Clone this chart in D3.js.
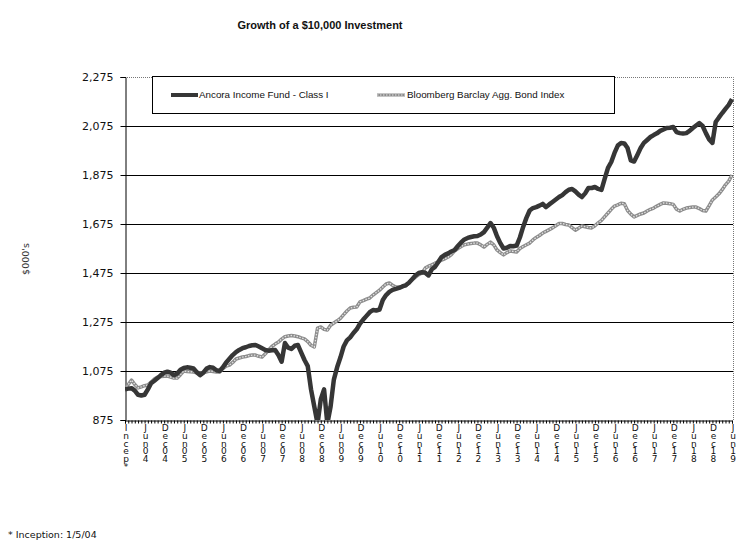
<!DOCTYPE html>
<html>
<head>
<meta charset="utf-8">
<script src="https://cdn.jsdelivr.net/npm/d3@7"></script>
<style>
  body { margin: 0; background: #fff; }
  svg { display: block; }
  .xlabel { writing-mode: vertical-rl; text-orientation: upright; }
</style>
</head>
<body>
<svg id="chart" width="755" height="554"></svg>
<script>
// month index 0 = inception (1/5/04), 1 = Jan04 ... 186 = Jun19
const fundValues = [
  1000,
  1003, 1005, 995, 978, 975, 978, 1000, 1025, 1035, 1046, 1058, 1068,
  1072, 1068, 1058, 1065, 1080, 1087, 1090, 1088, 1085, 1070, 1058, 1068,
  1085, 1091, 1088, 1078, 1075, 1090, 1110, 1125, 1140, 1152, 1161, 1168,
  1172, 1177, 1180, 1181, 1175, 1168, 1161, 1158, 1160, 1161, 1140, 1113,
  1189, 1170, 1165, 1178, 1181, 1150, 1120, 1095, 1000, 930, 860, 960,
  1000, 860, 930, 1040, 1090, 1130, 1175, 1200, 1212, 1230, 1245, 1268,
  1285, 1300, 1315, 1324, 1322, 1326, 1365, 1385, 1398, 1406, 1410, 1414,
  1420, 1425, 1435, 1450, 1465, 1475, 1478, 1476, 1465, 1490, 1500, 1520,
  1540, 1549, 1555, 1563, 1569, 1585, 1600, 1612, 1618, 1622, 1625, 1626,
  1632, 1642, 1660, 1679, 1660, 1625, 1597, 1575, 1578, 1585, 1584, 1587,
  1620, 1663, 1700, 1730, 1740, 1744, 1750, 1757, 1744, 1755, 1765, 1775,
  1785, 1793, 1805, 1815, 1818, 1808, 1795, 1785, 1800, 1822, 1822, 1826,
  1818, 1814, 1860, 1904, 1928, 1965, 1995, 2006, 2004, 1985, 1935, 1930,
  1957, 1985, 2006, 2018, 2030, 2038, 2045, 2055, 2061, 2067, 2068, 2071,
  2050, 2046, 2044, 2046, 2055, 2067, 2077, 2087, 2075, 2046, 2020, 2006,
  2091, 2110, 2128, 2145, 2161, 2185
];

const bondValues = [
  1000,
  1020, 1038, 1020, 1006, 1010, 1015, 1018, 1030, 1042, 1050, 1052, 1054,
  1054, 1050, 1046, 1046, 1060, 1075, 1073, 1072, 1071, 1068, 1067, 1068,
  1072, 1075, 1073, 1071, 1071, 1085, 1095, 1099, 1110, 1124, 1128, 1132,
  1134, 1138, 1140, 1140, 1135, 1132, 1145, 1161, 1175, 1185, 1193, 1205,
  1215, 1218, 1220, 1218, 1215, 1210, 1206, 1195, 1180, 1173, 1250, 1255,
  1245, 1242, 1262, 1271, 1280, 1290, 1305, 1320, 1332, 1335, 1336, 1357,
  1362, 1368, 1373, 1385, 1395, 1405, 1418, 1430, 1434, 1425, 1418, 1418,
  1420, 1422, 1435, 1447, 1458, 1468, 1475, 1495, 1503, 1508, 1515, 1520,
  1528, 1533, 1540, 1550, 1565, 1575, 1583, 1590, 1593, 1595, 1597, 1597,
  1590, 1581, 1592, 1601, 1590, 1569, 1558, 1549, 1558, 1565, 1563, 1561,
  1575, 1583, 1590, 1597, 1610, 1620, 1628, 1638, 1645, 1652, 1659, 1668,
  1677, 1677, 1673, 1671, 1660, 1650, 1658, 1667, 1664, 1661, 1659, 1668,
  1680, 1690, 1705, 1720, 1735, 1748, 1753, 1760, 1758, 1730, 1715, 1704,
  1710, 1716, 1720, 1728, 1735, 1740, 1748, 1755, 1761, 1760, 1758, 1755,
  1735, 1728, 1735, 1740, 1742, 1744, 1744, 1738, 1730, 1728, 1750, 1773,
  1785, 1798, 1815, 1835, 1850, 1875
];

const xLabels = ['Incep*',
  'Jun04', 'Dec04', 'Jun05', 'Dec05', 'Jun06', 'Dec06', 'Jun07', 'Dec07',
  'Jun08', 'Dec08', 'Jun09', 'Dec09', 'Jun10', 'Dec10', 'Jun11', 'Dec11',
  'Jun12', 'Dec12', 'Jun13', 'Dec13', 'Jun14', 'Dec14', 'Jun15', 'Dec15',
  'Jun16', 'Dec16', 'Jun17', 'Dec17', 'Jun18', 'Dec18', 'Jun19'];

const yTicks = [875, 1075, 1275, 1475, 1675, 1875, 2075, 2275];

const seriesNames = ['Ancora Income Fund - Class I', 'Bloomberg Barclay Agg. Bond Index'];

const svg = d3.select('#chart');
const plotLeft = 125, plotRight = 732, plotTop = 77, plotBottom = 420;

const x = d3.scaleLinear().domain([0, fundValues.length - 1]).range([plotLeft, plotRight]);
const y = d3.scaleLinear().domain([875, 2275]).range([plotBottom, plotTop]);

const defs = svg.append('defs');
defs.append('clipPath').attr('id', 'plotclip')
  .append('rect')
  .attr('x', plotLeft).attr('y', plotTop)
  .attr('width', plotRight - plotLeft + 2).attr('height', plotBottom - plotTop);

// title
svg.append('text')
  .attr('x', 320).attr('y', 29)
  .attr('text-anchor', 'middle')
  .attr('font-family', 'Liberation Sans, Arial, sans-serif')
  .attr('font-size', 11).attr('font-weight', 'bold')
  .attr('fill', '#111')
  .text('Growth of a $10,000 Investment');

// gridlines
svg.append('g')
  .selectAll('line')
  .data(yTicks.filter(d => d > 875 && d < 2275))
  .enter()
  .append('line')
  .attr('x1', plotLeft).attr('x2', plotRight + 1)
  .attr('y1', d => Math.round(y(d)) + 0.5)
  .attr('y2', d => Math.round(y(d)) + 0.5)
  .attr('stroke', '#000').attr('stroke-width', 1);

// dotted frame top/right
svg.append('path')
  .attr('d', `M${plotLeft},${plotTop + 0.5}H${plotRight + 1.5}V${plotBottom}`)
  .attr('fill', 'none')
  .attr('stroke', '#777')
  .attr('stroke-dasharray', '1,1');

// y axis
const yAxis = svg.append('g')
  .attr('transform', `translate(${plotLeft + 0.5},0)`)
  .call(d3.axisLeft(y).tickValues(yTicks).tickSize(5).tickPadding(7).tickFormat(d3.format(',')));
yAxis.select('.domain').attr('stroke', '#000');
yAxis.selectAll('.tick line').attr('stroke', '#000');
yAxis.selectAll('text')
  .attr('font-family', 'DejaVu Sans, Verdana, sans-serif')
  .attr('font-size', 11)
  .attr('fill', '#111');

// stacked x labels (one character per row), drawn under the tick marks
svg.append('g')
  .selectAll('text')
  .data(xLabels)
  .enter()
  .append('text')
  .classed('xlabel', true)
  .attr('x', (d, i) => x(i * 6) + 1)
  .attr('y', 423)
  .attr('font-family', 'DejaVu Sans, Verdana, sans-serif')
  .attr('font-size', 9)
  .attr('letter-spacing', -2.2)
  .attr('fill', '#111')
  .text(d => d);

// x axis: monthly ticks
const xAxis = svg.append('g')
  .attr('transform', `translate(0,${plotBottom + 0.5})`)
  .call(d3.axisBottom(x).tickValues(d3.range(0, fundValues.length)).tickSize(3).tickFormat(''));
xAxis.select('.domain').attr('stroke', '#000');
xAxis.selectAll('.tick line').attr('stroke', '#000');

// lines
const line = d3.line().x((d, i) => x(i)).y(d => y(d));
const plot = svg.append('g').attr('clip-path', 'url(#plotclip)');

plot.append('path')
  .datum(bondValues)
  .attr('d', line)
  .attr('fill', 'none')
  .attr('stroke', '#8c8c8c')
  .attr('stroke-width', 3.5)
  .attr('stroke-linejoin', 'round');
plot.append('path')
  .datum(bondValues)
  .attr('d', line)
  .attr('fill', 'none')
  .attr('stroke', '#e4e4e4')
  .attr('stroke-width', 1.3)
  .attr('stroke-dasharray', '1.5,1.5');

plot.append('path')
  .datum(fundValues)
  .attr('d', line)
  .attr('fill', 'none')
  .attr('stroke', '#363636')
  .attr('stroke-width', 4.5)
  .attr('stroke-linejoin', 'round');

// legend
const legend = svg.append('g');
legend.append('rect')
  .attr('x', 152.5).attr('y', 76.5)
  .attr('width', 462).attr('height', 37)
  .attr('fill', '#fff').attr('stroke', '#000');

legend.append('line')
  .attr('x1', 171).attr('x2', 198).attr('y1', 95).attr('y2', 95)
  .attr('stroke', '#363636').attr('stroke-width', 4);
legend.append('line')
  .attr('x1', 377).attr('x2', 405).attr('y1', 95).attr('y2', 95)
  .attr('stroke', '#8c8c8c').attr('stroke-width', 3);
legend.append('line')
  .attr('x1', 377).attr('x2', 405).attr('y1', 95).attr('y2', 95)
  .attr('stroke', '#e4e4e4').attr('stroke-width', 1.1).attr('stroke-dasharray', '1.5,1.5');

legend.selectAll('.legtext')
  .data(seriesNames)
  .enter()
  .append('text')
  .attr('x', (d, i) => (i === 0 ? 199 : 407))
  .attr('y', 98)
  .attr('font-family', 'Liberation Sans, Arial, sans-serif')
  .attr('font-size', 9.8)
  .attr('fill', '#111')
  .text(d => d);

// y axis title
svg.append('text')
  .attr('transform', 'translate(29,259) rotate(-90)')
  .attr('text-anchor', 'middle')
  .attr('font-family', 'DejaVu Sans, Verdana, sans-serif')
  .attr('font-size', 9.5)
  .attr('fill', '#333')
  .text("$000's");

// footnote
svg.append('text')
  .attr('x', 8).attr('y', 538)
  .attr('font-family', 'DejaVu Sans, Verdana, sans-serif')
  .attr('font-size', 9.5)
  .attr('fill', '#111')
  .text('*  Inception: 1/5/04');
</script>
</body>
</html>
